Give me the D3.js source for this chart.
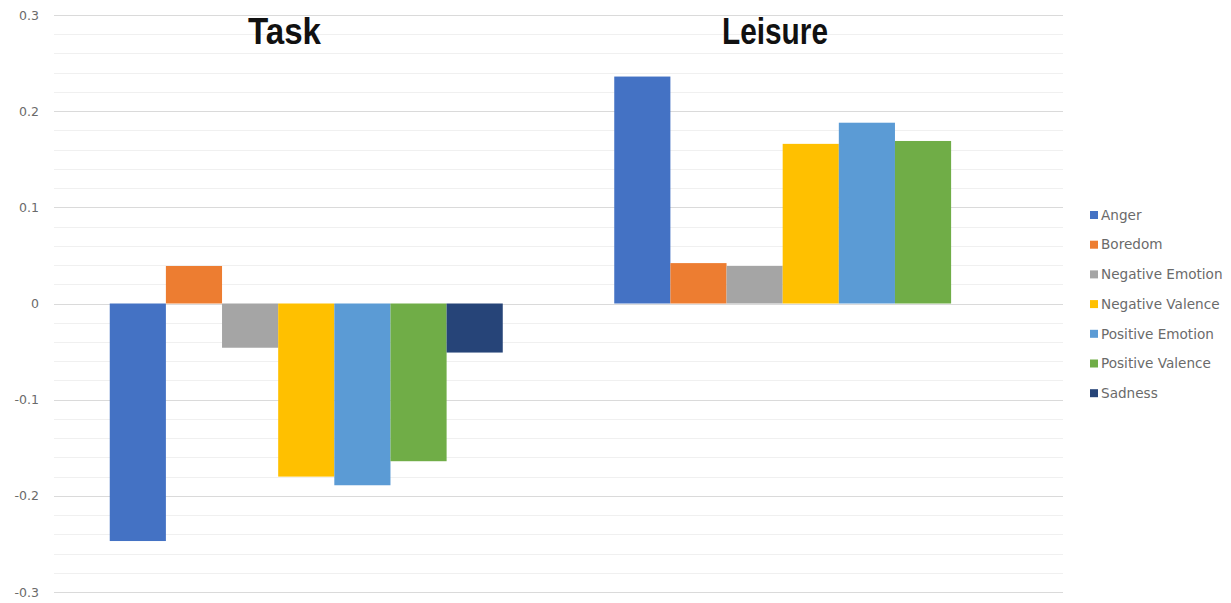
<!DOCTYPE html>
<html>
<head>
<meta charset="utf-8">
<script src="https://cdn.jsdelivr.net/npm/d3@7"></script>
<style>
  html, body { margin: 0; padding: 0; background: #ffffff; }
  svg { display: block; }
</style>
</head>
<body>
<svg id="chart" width="1231" height="603"></svg>
<script>
// Context groups along the x axis
const categories = ["Task", "Leisure"];

// Emotion series (legend order)
const seriesNames = [
  "Anger", "Boredom", "Negative Emotion", "Negative Valence",
  "Positive Emotion", "Positive Valence", "Sadness"
];

// Values per series, one entry per category (Task, Leisure)
const anger           = [-0.247, 0.236];
const boredom         = [0.039, 0.042];
const negativeEmotion = [-0.046, 0.039];
const negativeValence = [-0.180, 0.166];
const positiveEmotion = [-0.189, 0.188];
const positiveValence = [-0.164, 0.169];
const sadness         = [-0.051, null];

const seriesValues = [anger, boredom, negativeEmotion, negativeValence,
                      positiveEmotion, positiveValence, sadness];

const seriesColors = ["#4472C4", "#ED7D31", "#A5A5A5", "#FFC000",
                      "#5B9BD5", "#70AD47", "#264478"];

// Axis ticks
const majorTicks = [-0.3, -0.2, -0.1, 0, 0.1, 0.2, 0.3];
const tickLabels = ["-0.3", "-0.2", "-0.1", "0", "0.1", "0.2", "0.3"];
const minorTicks = d3.range(-15, 16).map(i => +(i * 0.02).toFixed(2));

const svg = d3.select("#chart");

const plot = { left: 54, right: 1063, top: 15, bottom: 592 };

const y = d3.scaleLinear()
  .domain([-0.3, 0.3])
  .range([plot.bottom, plot.top]);

const x0 = d3.scaleBand()
  .domain(categories)
  .range([plot.left, plot.right])
  .paddingInner(0.221)
  .paddingOuter(0.1105);

const x1 = d3.scaleBand()
  .domain(seriesNames)
  .range([0, x0.bandwidth()])
  .padding(0);

const color = d3.scaleOrdinal().domain(seriesNames).range(seriesColors);

// Minor gridlines
svg.append("g")
  .selectAll("line")
  .data(minorTicks.filter(t => !majorTicks.some(m => Math.abs(m - t) < 1e-9)))
  .join("line")
  .attr("x1", plot.left).attr("x2", plot.right)
  .attr("y1", d => Math.round(y(d)) + 0.5)
  .attr("y2", d => Math.round(y(d)) + 0.5)
  .attr("stroke", "#f0f0f0")
  .attr("stroke-width", 1);

// Major gridlines
svg.append("g")
  .selectAll("line")
  .data(majorTicks)
  .join("line")
  .attr("x1", plot.left).attr("x2", plot.right)
  .attr("y1", d => Math.round(y(d)) + 0.5)
  .attr("y2", d => Math.round(y(d)) + 0.5)
  .attr("stroke", "#dadada")
  .attr("stroke-width", 1.2);

// Y axis labels
const yAxis = d3.axisLeft(y)
  .tickValues(majorTicks)
  .tickFormat((d, i) => tickLabels[i])
  .tickSize(0)
  .tickPadding(15);

const yAxisG = svg.append("g")
  .attr("transform", `translate(${plot.left},0)`)
  .call(yAxis);
yAxisG.select(".domain").remove();
yAxisG.selectAll("text")
  .attr("fill", "#6a6a6a")
  .style("font-family", "'DejaVu Sans', sans-serif")
  .style("font-size", "12.5px");

// Bars
const groups = svg.append("g")
  .selectAll("g")
  .data(categories)
  .join("g")
  .attr("transform", d => `translate(${x0(d)},0)`);

groups.selectAll("rect")
  .data((cat, ci) => seriesNames.map((name, si) => ({ name, value: seriesValues[si][ci] })))
  .join("rect")
  .filter(d => d.value !== null)
  .attr("x", d => x1(d.name))
  .attr("width", x1.bandwidth())
  .attr("y", d => y(Math.max(0, d.value)))
  .attr("height", d => Math.abs(y(d.value) - y(0)))
  .attr("fill", d => color(d.name));

// Group titles
const titles = [
  { text: "Task", x: 248, width: 73 },
  { text: "Leisure", x: 722, width: 106 }
];
svg.append("g")
  .selectAll("text")
  .data(titles)
  .join("text")
  .attr("x", d => d.x)
  .attr("y", 44)
  .attr("textLength", d => d.width)
  .attr("lengthAdjust", "spacingAndGlyphs")
  .attr("fill", "#111111")
  .style("font-family", "'Liberation Sans Narrow', 'Liberation Sans', Arial, sans-serif")
  .style("font-weight", "bold")
  .style("font-size", "37px")
  .text(d => d.text);

// Legend
const legend = svg.append("g")
  .attr("transform", "translate(1090,215)");

const legendItems = legend.selectAll("g")
  .data(seriesNames)
  .join("g")
  .attr("transform", (d, i) => `translate(0,${i * 29.7})`);

legendItems.append("rect")
  .attr("x", 0)
  .attr("y", -4)
  .attr("width", 8)
  .attr("height", 8)
  .attr("fill", d => color(d));

legendItems.append("text")
  .attr("x", 11)
  .attr("y", 0)
  .attr("dy", "0.35em")
  .attr("fill", "#6a6a6a")
  .style("font-family", "'DejaVu Sans', sans-serif")
  .style("font-size", "13.6px")
  .text(d => d);
</script>
</body>
</html>
